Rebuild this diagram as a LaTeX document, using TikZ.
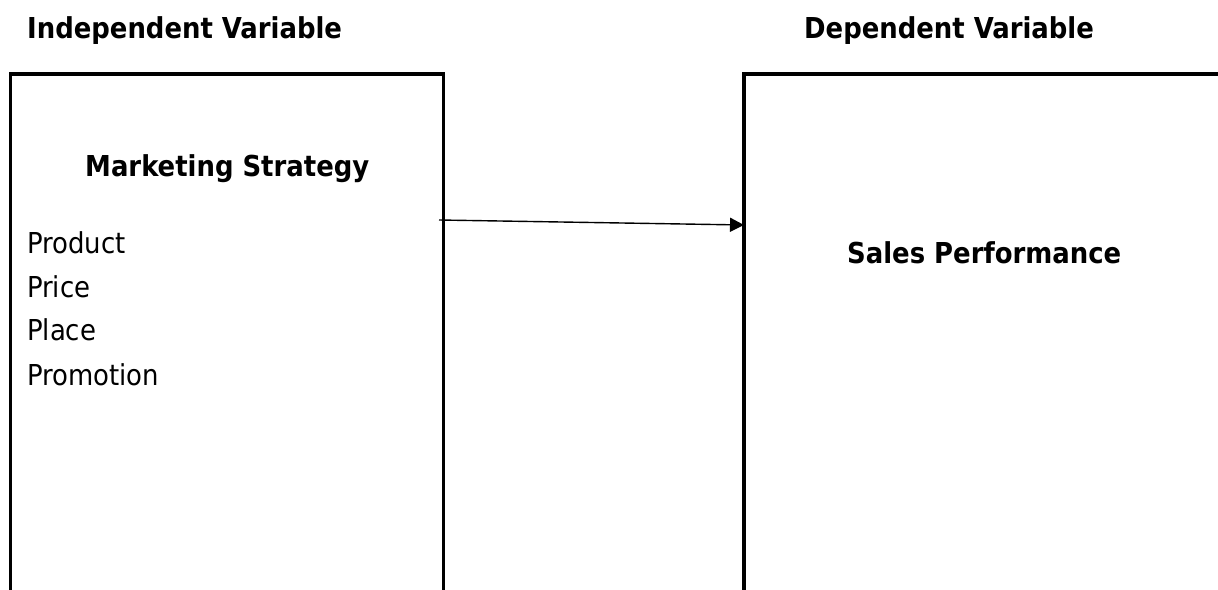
\documentclass[tikz,border=0pt]{standalone}
\usepackage{fontspec}
\setmainfont{DejaVu Sans Condensed}
\usetikzlibrary{arrows.meta}
\tikzset{
  framebox/.style={draw=black, line width=3.6pt, inner sep=0pt, outer sep=0pt, anchor=north west, minimum height=700pt},
  head/.style={inner sep=0pt, anchor=base west, font=\fontsize{28.8}{34}\selectfont\bfseries},
  body/.style={inner sep=0pt, anchor=base west, font=\fontsize{28.8}{34}\selectfont},
  conn/.style={line width=1.4pt, -{Triangle[length=14pt,width=14pt]}}
}
\begin{document}
\begin{tikzpicture}[x=1pt,y=-1pt]
\useasboundingbox (0,0) rectangle (1218,589);
\clip (0,0) rectangle (1218,589);
\node[framebox, minimum width=433pt] (iv) at (10.5,74) {};
\node[framebox, minimum width=600pt] (dv) at (744,74) {};
\node[head] (ivt) at (27,38) {Independent Variable};
\node[head] (dvt) at (804,38) {Dependent Variable};
\node[head] (ms) at (85,176) {Marketing Strategy};
\node[head] (sp) at (847,263) {Sales Performance};
\node[body] (p1) at (27,253) {Product};
\node[body] (p2) at (27,297) {Price};
\node[body] (p3) at (27,340) {Place};
\node[body] (p4) at (27,385) {Promotion};
\coordinate (a) at (439,220);
\coordinate (b) at (dv.north west |- 0,225);
\draw[conn] (a) -- (b);
\end{tikzpicture}
\end{document}
